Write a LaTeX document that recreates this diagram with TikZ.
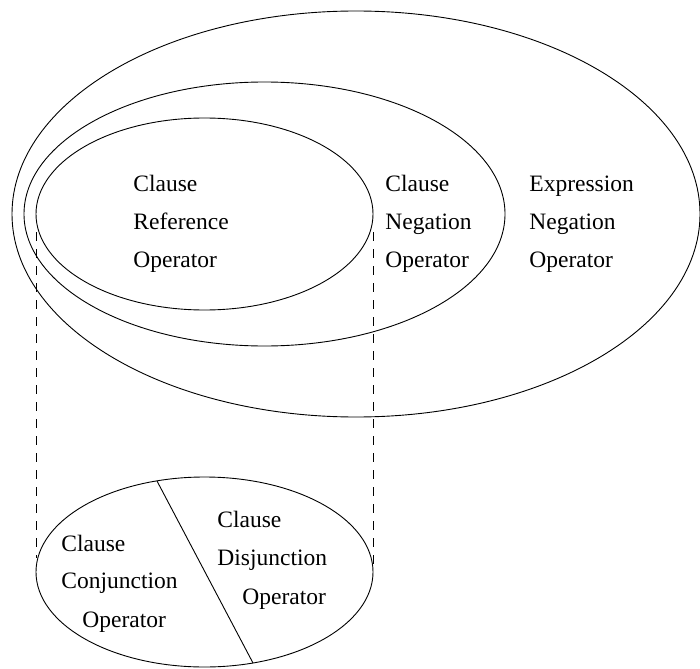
\documentclass[tikz,border=0pt]{standalone}
\usepackage{fontspec}
\setmainfont{Liberation Serif}
\begin{document}
\begin{tikzpicture}[x=1pt,y=-1pt,line width=0.9pt,
  lbl/.style={anchor=base west,inner sep=0pt,font=\fontsize{23.5}{28}\selectfont},
  proj/.style={dash pattern=on 9pt off 8pt}]
\useasboundingbox (0,0) rectangle (700,668);
% nested ellipses
\draw (356,214) ellipse [x radius=344pt, y radius=203pt];
\draw (264.5,214) ellipse [x radius=240.5pt, y radius=132pt];
\draw (204.5,214) ellipse [x radius=168.5pt, y radius=96pt];
% projected ellipse
\draw (204.5,572) ellipse [x radius=168.5pt, y radius=95pt];
\coordinate (sTop) at (157,481);
\coordinate (sBot) at (253,663);
\draw (sTop) -- (sBot);
% projection lines
\coordinate (pLT) at (36,232);
\coordinate (pLB) at (36,558);
\coordinate (pRT) at (373,232);
\coordinate (pRB) at (373,568);
\draw[proj] (pLT) -- (pLB);
\draw[proj] (pRT) -- (pRB);
% labels
\node[lbl] (r1) at (133,192) {Clause};
\node[lbl] (r2) at (133,229) {Reference};
\node[lbl] (r3) at (133,267) {Operator};
\node[lbl] (n1) at (385,192) {Clause};
\node[lbl] (n2) at (385,229) {Negation};
\node[lbl] (n3) at (385,267) {Operator};
\node[lbl] (e1) at (529,192) {Expression};
\node[lbl] (e2) at (529,229) {Negation};
\node[lbl] (e3) at (529,267) {Operator};
\node[lbl] (c1) at (61,551) {Clause};
\node[lbl] (c2) at (61,588) {Conjunction};
\node[lbl] (c3) at (82,627) {Operator};
\node[lbl] (d1) at (217,527) {Clause};
\node[lbl] (d2) at (217,565) {Disjunction};
\node[lbl] (d3) at (242,604) {Operator};
\end{tikzpicture}
\end{document}
